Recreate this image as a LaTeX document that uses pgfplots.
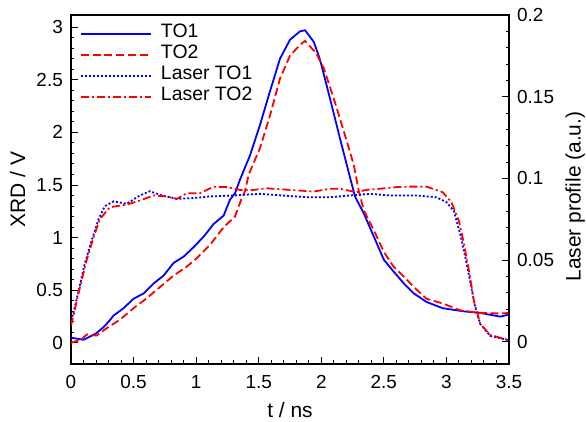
\documentclass[border=0pt]{standalone}
\usepackage{fontspec}
\setmainfont{Liberation Sans}
\usepackage{pgfplots}
\pgfplotsset{compat=1.18}
\usetikzlibrary{calc}
\begin{document}
\begin{tikzpicture}
\pgfplotsset{
  common/.style={
    scale only axis, width=438bp, height=349bp,
    xmin=0, xmax=3.5,
    scaled x ticks=false, scaled y ticks=false,
    tick label style={font=\fontsize{19}{19}\selectfont},
    label style={font=\fontsize{21}{21}\selectfont},
    major tick length=7bp, minor tick length=3.5bp,
    tick style={black, line width=1bp},
    axis line style={line width=1.3bp},
    tick align=inside,
  }
}
\begin{axis}[common,
  ymin=-0.2, ymax=3.115,
  xtick={0,0.5,1,1.5,2,2.5,3,3.5}, minor x tick num=4,
  xticklabels={0,0.5,1,1.5,2,2.5,3,3.5},
  ytick={0,0.5,1,1.5,2,2.5,3}, minor y tick num=4,
  yticklabels={0,0.5,1,1.5,2,2.5,3},
  xtick pos=bottom, ytick pos=left,
  xticklabel style={anchor=center, inner sep=0pt, yshift=-18bp},
  yticklabel style={anchor=east, inner sep=0pt, xshift=-8bp},
  xlabel={t / ns}, ylabel={XRD / V},
  xlabel style={at={(axis description cs:0.5,-0.132)}, anchor=center},
  ylabel style={at={(axis description cs:-0.122,0.5)}, anchor=center},
]
\addplot[blue, line width=1.8bp] coordinates {
(0,0.05)(0.05,0.04)(0.1,0.03)(0.15,0.06)(0.2,0.09)(0.26,0.15)(0.3,0.2)(0.34,0.26)(0.42,0.33)(0.5,0.42)(0.58,0.47)(0.66,0.565)(0.74,0.64)(0.82,0.76)(0.9,0.82)(0.98,0.91)(1.06,1.01)(1.14,1.13)(1.22,1.21)(1.27,1.36)(1.31,1.42)(1.35,1.55)(1.43,1.78)(1.51,2.07)(1.59,2.39)(1.67,2.70)(1.75,2.88)(1.83,2.96)(1.87,2.97)(1.94,2.86)(1.99,2.69)(2.07,2.32)(2.15,1.94)(2.23,1.57)(2.27,1.39)(2.34,1.23)(2.42,1.01)(2.5,0.79)(2.58,0.675)(2.66,0.565)(2.74,0.47)(2.84,0.39)(2.97,0.33)(3.14,0.30)(3.27,0.285)(3.43,0.25)(3.5,0.27)
};
\addplot[red, line width=1.8bp, dash pattern=on 8bp off 3.7bp] coordinates {
(0,0.0)(0.02,0.01)(0.08,0.03)(0.125,0.08)(0.205,0.07)(0.285,0.14)(0.39,0.22)(0.5,0.33)(0.6,0.42)(0.71,0.53)(0.82,0.64)(0.92,0.72)(1.0,0.80)(1.11,0.93)(1.22,1.10)(1.31,1.20)(1.36,1.36)(1.39,1.44)(1.42,1.6)(1.51,1.85)(1.59,2.16)(1.67,2.51)(1.75,2.73)(1.83,2.83)(1.87,2.87)(1.96,2.75)(2.02,2.61)(2.10,2.32)(2.18,2.01)(2.26,1.69)(2.30,1.44)(2.34,1.26)(2.42,1.07)(2.5,0.865)(2.58,0.72)(2.66,0.63)(2.74,0.53)(2.84,0.42)(2.97,0.375)(3.11,0.31)(3.27,0.285)(3.43,0.28)(3.5,0.285)
};
\end{axis}
\begin{axis}[common,
  ymin=-0.0135, ymax=0.2,
  axis x line=none,
  axis y line*=right,
  ytick={0,0.05,0.1,0.15,0.2}, minor y tick num=4,
  yticklabels={0,0.05,0.1,0.15,0.2},
  yticklabel style={anchor=west, inner sep=0pt, xshift=8bp},
  ylabel={Laser profile (a.u.)},
  ylabel style={at={(axis description cs:1.151,0.48)}, anchor=center},
  legend cell align=left,
  legend style={at={(axis description cs:0,1)}, anchor=north west,
    xshift=6bp, yshift=-6bp,
    draw=none, fill=none, font=\fontsize{19.5}{19.5}\selectfont,
    nodes={inner sep=0pt, text height=14bp, text depth=7bp},
    column sep=9bp, row sep=0pt},
  legend image code/.code={\draw[#1] (0bp,0bp) -- (70bp,0bp);},
]
\addlegendimage{blue, line width=1.8bp}
\addlegendentry{TO1}
\addlegendimage{red, line width=1.8bp, dash pattern=on 8bp off 3.7bp}
\addlegendentry{TO2}
\addplot[blue, line width=1.8bp, dash pattern=on 2bp off 2bp] coordinates {
(0,0.013)(0.02,0.018)(0.06,0.031)(0.11,0.048)(0.165,0.062)(0.22,0.075)(0.27,0.083)(0.34,0.086)(0.445,0.0845)(0.55,0.0896)(0.63,0.0922)(0.71,0.090)(0.845,0.0875)(0.98,0.088)(1.11,0.089)(1.30,0.0896)(1.51,0.0906)(1.7,0.0895)(1.9,0.0885)(2.07,0.0885)(2.23,0.0896)(2.39,0.0906)(2.55,0.0896)(2.76,0.0896)(2.92,0.0885)(3.0,0.0855)(3.06,0.080)(3.11,0.066)(3.15,0.052)(3.19,0.037)(3.23,0.021)(3.27,0.011)(3.35,0.0037)(3.5,0.001)
};
\addlegendentry{Laser TO1}
\addplot[red, line width=1.8bp, dash pattern=on 8bp off 3bp on 2bp off 3bp] coordinates {
(0,0.01)(0.01,0.013)(0.07,0.033)(0.125,0.050)(0.18,0.064)(0.23,0.075)(0.31,0.0824)(0.445,0.084)(0.55,0.0865)(0.66,0.0896)(0.765,0.089)(0.845,0.0875)(0.925,0.091)(1.03,0.091)(1.14,0.095)(1.245,0.0947)(1.35,0.093)(1.46,0.093)(1.56,0.094)(1.75,0.093)(1.94,0.092)(2.07,0.0937)(2.15,0.0937)(2.28,0.0916)(2.36,0.093)(2.47,0.0937)(2.60,0.0947)(2.68,0.095)(2.84,0.095)(2.97,0.0916)(3.04,0.0855)(3.10,0.074)(3.14,0.060)(3.18,0.0436)(3.22,0.025)(3.27,0.011)(3.35,0.0043)(3.5,0.001)
};
\addlegendentry{Laser TO2}
\end{axis}
\pgfresetboundingbox
\path[use as bounding box] ($(current axis.south west)+(-71bp,-58bp)$) rectangle ($(current axis.north east)+(77bp,15bp)$);
\end{tikzpicture}
\end{document}
